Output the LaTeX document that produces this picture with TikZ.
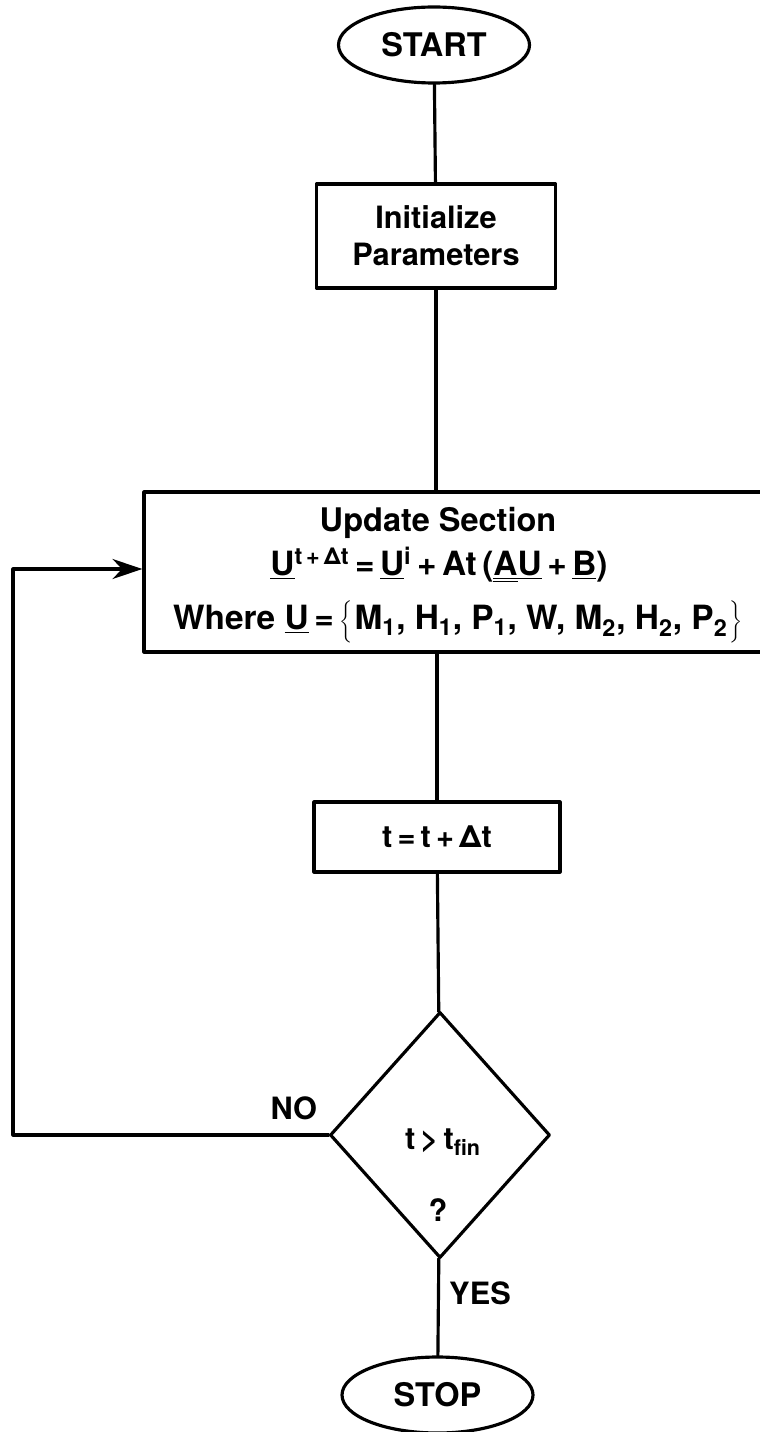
\documentclass[tikz,border=0pt]{standalone}
\usepackage{fontspec}
\setmainfont{TeX Gyre Heros}
\usetikzlibrary{arrows.meta,positioning,shapes.geometric}

\begin{document}
\begin{tikzpicture}[>=Stealth,line join=round,line cap=round,
  flow/.style={line width=1.8pt},
  term/.style={ellipse,draw,flow,minimum width=3.82cm,minimum height=1.52cm,inner sep=0pt},
  procbox/.style={rectangle,draw,flow,inner sep=0pt},
  decide/.style={diamond,draw,flow,minimum width=4.4cm,minimum height=4.92cm,inner sep=0pt},
  lbl/.style={inner sep=0pt,font=\bfseries\fontsize{17.5}{21}\selectfont,align=center},
  biglbl/.style={lbl,font=\bfseries\fontsize{19}{22}\selectfont}]
  \useasboundingbox (0,0) rectangle (15.18,-28.64);
  \node[term,lbl,font=\bfseries\fontsize{18.5}{22}\selectfont] (start) at (8.68,-0.90) {START};
  \node[procbox,lbl,minimum width=4.78cm,minimum height=2.08cm] (init) at (8.72,-4.72) {Initialize\\Parameters};
  \node[procbox,minimum width=12.42cm,minimum height=3.2cm] (update) at (9.09,-11.44) {};
  \node[lbl,font=\bfseries\fontsize{18.5}{22}\selectfont] (updtitle) at (8.76,-10.46) {Update Section};
  \node[biglbl] (updeq) at (8.78,-11.30) {\underline{U}\textsuperscript{t\,+\,Δt}\,=\,\underline{U}\textsuperscript{i}\,+\,At\,(\underline{\underline{A}}\underline{U}\,+\,\underline{B})};
  \node[biglbl] (updwhere) at (9.16,-12.44) {Where \underline{U}\,=\,$\left\{\rule[-0.25cm]{0pt}{0.75cm}\right.$M\textsubscript{1}, H\textsubscript{1}, P\textsubscript{1}, W, M\textsubscript{2}, H\textsubscript{2}, P\textsubscript{2}$\left.\rule[-0.25cm]{0pt}{0.75cm}\right\}$};
  \node[procbox,lbl,minimum width=4.92cm,minimum height=1.40cm] (tstep) at (8.74,-16.74) {t\,=\,t\,+\,Δt};
  \node[decide] (cond) at (8.80,-22.70) {};
  \node[lbl] (condtest) at (8.86,-22.84) {t\,>\,t\textsubscript{fin}};
  \node[lbl] (condq) at (8.76,-24.20) {?};
  \node[term,lbl,font=\bfseries\fontsize{18.5}{22}\selectfont] (stop) at (8.75,-27.90) {STOP};
  \coordinate (looptop) at (0.26,-11.38);
  \draw[flow] (start) -- (init);
  \draw[flow] (init) -- (init |- update.north);
  \draw[flow] (update.south -| tstep) -- (tstep);
  \draw[flow] (tstep) -- (cond);
  \draw[flow] (cond) -- (stop);
  \draw[flow,-{Stealth[length=0.6cm,width=0.4cm]}] (cond.west) -| (looptop) -- (update.west |- looptop);
  \node[lbl,above left=0.3cm and 0.22cm of cond.west] (nolbl) {NO};
  \node[lbl] (yeslbl) at (9.60,-25.86) {YES};
\end{tikzpicture}
\end{document}
